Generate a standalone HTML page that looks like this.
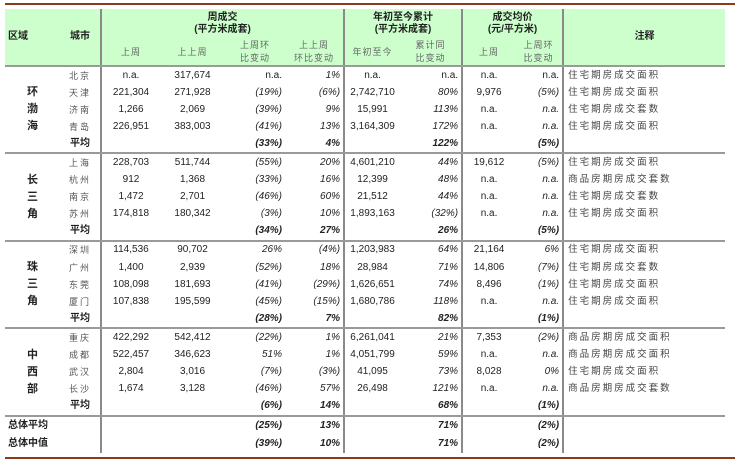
<!DOCTYPE html>
<html><head><meta charset="utf-8"><style>
body{margin:0;width:748px;height:460px;background:#fff;position:relative;overflow:hidden;font-family:"Liberation Sans","Noto Sans CJK SC",sans-serif;font-size:10px;color:#222}
.hl{position:absolute;left:5px;width:730px;height:2px;background:#8b3a1a}
table{position:absolute;left:5px;top:9px;border-collapse:collapse;table-layout:fixed;width:720px}
td{padding:0 3px;white-space:nowrap;overflow:hidden;height:17.1px;line-height:16px}
.h td{background:#ccffcc}
.vl{border-left:2px solid #8a8a8a}
.g td{border-bottom:2px solid #9a9a9a}
.c{text-align:center}.r{text-align:right}
.i{font-style:italic}.b{font-weight:bold}
.city{color:#555;text-align:center;font-size:9px;letter-spacing:2px}
.sub{color:#666;font-size:9px;letter-spacing:1px;line-height:13px;text-align:center}
.reg{font-weight:bold;text-align:center;line-height:17px;font-size:11px}
.nt{color:#444;font-size:9.5px;letter-spacing:2px;padding-left:4px}
</style></head><body>
<div class="hl" style="top:3px"></div>
<div class="hl" style="top:457px"></div>
<table>
<colgroup><col style="width:55px"><col style="width:41px"><col style="width:59px"><col style="width:65px"><col style="width:60px"><col style="width:59px"><col style="width:56px"><col style="width:62px"><col style="width:53px"><col style="width:48px"><col style="width:162px"></colgroup>
<tr class="h g"><td rowspan="2" class="b" style="height:56px;border-bottom:2px solid #9a9a9a">区域</td><td rowspan="2" class="b c" style="border-bottom:2px solid #9a9a9a">城市</td>
<td colspan="4" class="vl b c" style="height:30px;line-height:12px;border-bottom:none">周成交<br>(平方米成套)</td>
<td colspan="2" class="vl b c" style="line-height:12px;border-bottom:none">年初至今累计<br>(平方米成套)</td>
<td colspan="2" class="vl b c" style="line-height:12px;border-bottom:none">成交均价<br>(元/平方米)</td>
<td rowspan="2" class="vl b c" style="border-bottom:2px solid #9a9a9a">注释</td></tr>
<tr class="h g"><td class="vl sub" style="height:26px">上周</td><td class="sub">上上周</td><td class="sub">上周环<br>比变动</td><td class="sub">上上周<br>环比变动</td><td class="vl sub">年初至今</td><td class="sub">累计同<br>比变动</td><td class="vl sub">上周</td><td class="sub">上周环<br>比变动</td></tr>

<tr><td rowspan="5" class="reg" style="border-bottom:2px solid #9a9a9a">环<br>渤<br>海</td><td class="city">北京</td><td class="vl c">n.a.</td><td class="c">317,674</td><td class="r">n.a.</td><td class="r i">1%</td><td class="vl c">n.a.</td><td class="r">n.a.</td><td class="vl c">n.a.</td><td class="r">n.a.</td><td class="vl nt">住宅期房成交面积</td></tr>
<tr><td class="city">天津</td><td class="vl c">221,304</td><td class="c">271,928</td><td class="r i">(19%)</td><td class="r i">(6%)</td><td class="vl c">2,742,710</td><td class="r i">80%</td><td class="vl c">9,976</td><td class="r i">(5%)</td><td class="vl nt">住宅期房成交面积</td></tr>
<tr><td class="city">济南</td><td class="vl c">1,266</td><td class="c">2,069</td><td class="r i">(39%)</td><td class="r i">9%</td><td class="vl c">15,991</td><td class="r i">113%</td><td class="vl c">n.a.</td><td class="r i">n.a.</td><td class="vl nt">住宅期房成交套数</td></tr>
<tr><td class="city">青岛</td><td class="vl c">226,951</td><td class="c">383,003</td><td class="r i">(41%)</td><td class="r i">13%</td><td class="vl c">3,164,309</td><td class="r i">172%</td><td class="vl c">n.a.</td><td class="r i">n.a.</td><td class="vl nt">住宅期房成交面积</td></tr>
<tr class="g"><td class="c b">平均</td><td class="vl"></td><td></td><td class="r i b">(33%)</td><td class="r i b">4%</td><td class="vl"></td><td class="r i b">122%</td><td class="vl"></td><td class="r i b">(5%)</td><td class="vl"></td></tr>

<tr><td rowspan="5" class="reg" style="border-bottom:2px solid #9a9a9a">长<br>三<br>角</td><td class="city">上海</td><td class="vl c">228,703</td><td class="c">511,744</td><td class="r i">(55%)</td><td class="r i">20%</td><td class="vl c">4,601,210</td><td class="r i">44%</td><td class="vl c">19,612</td><td class="r i">(5%)</td><td class="vl nt">住宅期房成交面积</td></tr>
<tr><td class="city">杭州</td><td class="vl c">912</td><td class="c">1,368</td><td class="r i">(33%)</td><td class="r i">16%</td><td class="vl c">12,399</td><td class="r i">48%</td><td class="vl c">n.a.</td><td class="r i">n.a.</td><td class="vl nt">商品房期房成交套数</td></tr>
<tr><td class="city">南京</td><td class="vl c">1,472</td><td class="c">2,701</td><td class="r i">(46%)</td><td class="r i">60%</td><td class="vl c">21,512</td><td class="r i">44%</td><td class="vl c">n.a.</td><td class="r i">n.a.</td><td class="vl nt">住宅期房成交套数</td></tr>
<tr><td class="city">苏州</td><td class="vl c">174,818</td><td class="c">180,342</td><td class="r i">(3%)</td><td class="r i">10%</td><td class="vl c">1,893,163</td><td class="r i">(32%)</td><td class="vl c">n.a.</td><td class="r i">n.a.</td><td class="vl nt">住宅期房成交面积</td></tr>
<tr class="g"><td class="c b">平均</td><td class="vl"></td><td></td><td class="r i b">(34%)</td><td class="r i b">27%</td><td class="vl"></td><td class="r i b">26%</td><td class="vl"></td><td class="r i b">(5%)</td><td class="vl"></td></tr>

<tr><td rowspan="5" class="reg" style="border-bottom:2px solid #9a9a9a">珠<br>三<br>角</td><td class="city">深圳</td><td class="vl c">114,536</td><td class="c">90,702</td><td class="r i">26%</td><td class="r i">(4%)</td><td class="vl c">1,203,983</td><td class="r i">64%</td><td class="vl c">21,164</td><td class="r i">6%</td><td class="vl nt">住宅期房成交面积</td></tr>
<tr><td class="city">广州</td><td class="vl c">1,400</td><td class="c">2,939</td><td class="r i">(52%)</td><td class="r i">18%</td><td class="vl c">28,984</td><td class="r i">71%</td><td class="vl c">14,806</td><td class="r i">(7%)</td><td class="vl nt">住宅期房成交套数</td></tr>
<tr><td class="city">东莞</td><td class="vl c">108,098</td><td class="c">181,693</td><td class="r i">(41%)</td><td class="r i">(29%)</td><td class="vl c">1,626,651</td><td class="r i">74%</td><td class="vl c">8,496</td><td class="r i">(1%)</td><td class="vl nt">住宅期房成交面积</td></tr>
<tr><td class="city">厦门</td><td class="vl c">107,838</td><td class="c">195,599</td><td class="r i">(45%)</td><td class="r i">(15%)</td><td class="vl c">1,680,786</td><td class="r i">118%</td><td class="vl c">n.a.</td><td class="r i">n.a.</td><td class="vl nt">住宅期房成交面积</td></tr>
<tr class="g"><td class="c b">平均</td><td class="vl"></td><td></td><td class="r i b">(28%)</td><td class="r i b">7%</td><td class="vl"></td><td class="r i b">82%</td><td class="vl"></td><td class="r i b">(1%)</td><td class="vl"></td></tr>

<tr><td rowspan="5" class="reg" style="border-bottom:2px solid #9a9a9a">中<br>西<br>部</td><td class="city">重庆</td><td class="vl c">422,292</td><td class="c">542,412</td><td class="r i">(22%)</td><td class="r i">1%</td><td class="vl c">6,261,041</td><td class="r i">21%</td><td class="vl c">7,353</td><td class="r i">(2%)</td><td class="vl nt">商品房期房成交面积</td></tr>
<tr><td class="city">成都</td><td class="vl c">522,457</td><td class="c">346,623</td><td class="r i">51%</td><td class="r i">1%</td><td class="vl c">4,051,799</td><td class="r i">59%</td><td class="vl c">n.a.</td><td class="r i">n.a.</td><td class="vl nt">商品房期房成交面积</td></tr>
<tr><td class="city">武汉</td><td class="vl c">2,804</td><td class="c">3,016</td><td class="r i">(7%)</td><td class="r i">(3%)</td><td class="vl c">41,095</td><td class="r i">73%</td><td class="vl c">8,028</td><td class="r i">0%</td><td class="vl nt">住宅期房成交面积</td></tr>
<tr><td class="city">长沙</td><td class="vl c">1,674</td><td class="c">3,128</td><td class="r i">(46%)</td><td class="r i">57%</td><td class="vl c">26,498</td><td class="r i">121%</td><td class="vl c">n.a.</td><td class="r i">n.a.</td><td class="vl nt">商品房期房成交套数</td></tr>
<tr class="g"><td class="c b">平均</td><td class="vl"></td><td></td><td class="r i b">(6%)</td><td class="r i b">14%</td><td class="vl"></td><td class="r i b">68%</td><td class="vl"></td><td class="r i b">(1%)</td><td class="vl"></td></tr>

<tr><td colspan="2" class="b" style="height:18px">总体平均</td><td class="vl"></td><td></td><td class="r i b">(25%)</td><td class="r i b">13%</td><td class="vl"></td><td class="r i b">71%</td><td class="vl"></td><td class="r i b">(2%)</td><td class="vl"></td></tr>
<tr><td colspan="2" class="b" style="height:18px">总体中值</td><td class="vl"></td><td></td><td class="r i b">(39%)</td><td class="r i b">10%</td><td class="vl"></td><td class="r i b">71%</td><td class="vl"></td><td class="r i b">(2%)</td><td class="vl"></td></tr>
</table>
</body></html>
